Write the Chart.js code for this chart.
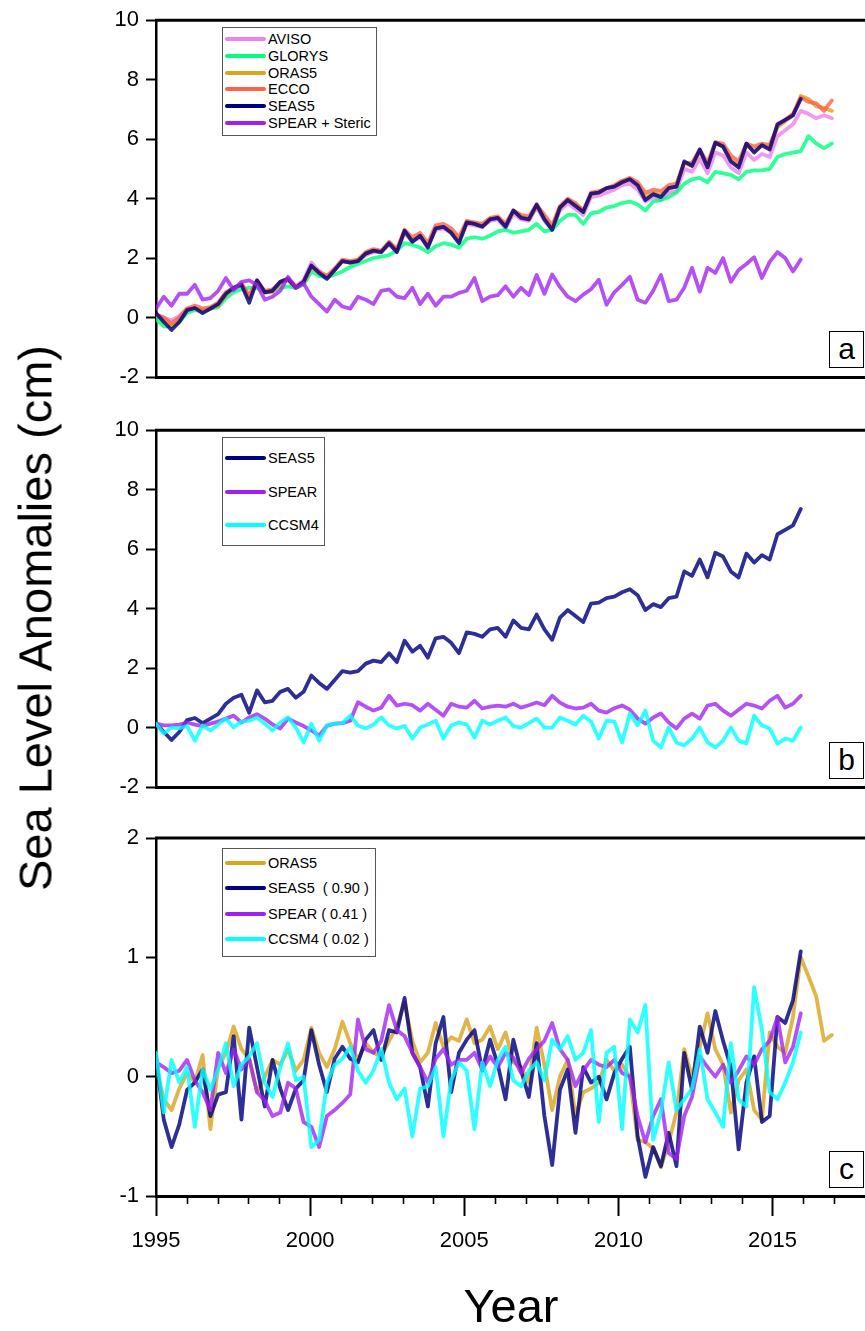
<!DOCTYPE html>
<html><head><meta charset="utf-8">
<script src="https://cdn.jsdelivr.net/npm/chart.js@4.4.0/dist/chart.umd.min.js"></script>
<style>
html,body{margin:0;padding:0;background:#fff;width:865px;height:1331px;overflow:hidden;position:relative;font-family:"Liberation Sans",Arial,Helvetica,sans-serif;}
canvas{position:absolute;left:0;}
.legend{position:absolute;border:1.5px solid #555;background:#fff;box-sizing:border-box;}
.row{position:absolute;left:0;height:16px;white-space:pre;font-size:14.5px;line-height:16px;color:#000}
.sw{position:absolute;left:2px;top:6px;width:41px;height:4px;border-radius:2px}
.tx{position:absolute;left:45px;top:0}
.plabel{position:absolute;left:829px;width:35px;height:37px;border:1.5px solid #000;background:#fff;font-size:30px;line-height:33px;text-align:center;box-sizing:border-box;color:#000}
#ytitle{position:absolute;left:35px;top:618px;transform:translate(-50%,-50%) rotate(-90deg);font-size:47px;white-space:nowrap;color:#000}
#xtitle{position:absolute;left:511px;top:1305px;transform:translate(-50%,-50%);font-size:47px;white-space:nowrap;color:#000}
</style>
</head><body>
<canvas id="ca" width="880" height="400" style="top:0px"></canvas>
<canvas id="cb" width="880" height="400" style="top:410px"></canvas>
<canvas id="cc" width="880" height="516" style="top:815px"></canvas>
<div id="ytitle">Sea Level Anomalies (cm)</div>
<div id="xtitle">Year</div>
<script>
// ---------------- DATA (quarterly samples) ----------------
const xTickYears = [1995, 2000, 2005, 2010, 2015];
const xMinorYears = [1996,1997,1998,1999,2001,2002,2003,2004,2006,2007,2008,2009,2011,2012,2013,2014,2016,2017];
const time84 = Array.from({length: 84}, (_, i) => 1995 + i * 0.252);
const time88 = Array.from({length: 88}, (_, i) => 1995 + i * 0.252);

// Panel a
const avisoA = [0.05,0.0,-0.1,0.05, 0.3,0.3,0.25,0.3, 0.45,0.8,0.95,1.1, 0.7,1.2,0.85,0.9, 1.15,1.3,1.05,1.25,
  1.85,1.55,1.35,1.6, 1.9,1.85,1.9,2.1, 2.2,2.2,2.45,2.2, 2.85,2.55,2.7,2.4, 2.95,3.0,2.85,2.55,
  3.15,3.1,3.05,3.25, 3.3,3.0,3.5,3.3, 3.25,3.7,3.25,2.95, 3.6,3.85,3.65,3.45, 4.05,4.1,4.2,4.3,
  4.45,4.5,4.3,3.9, 4.05,3.95,4.2,4.25, 5.0,4.9,5.35,4.85, 5.55,5.45,5.05,4.85, 5.55,5.3,5.5,5.4,
  6.1,6.3,6.5,6.95, 6.85,6.7,6.8,6.7];
const glorysA = [-0.05,-0.3,-0.3,-0.15, 0.15,0.25,0.2,0.3, 0.35,0.65,0.85,0.95, 1.0,1.0,0.85,0.9, 1.0,1.05,1.0,1.1,
  1.55,1.4,1.35,1.45, 1.55,1.7,1.8,1.9, 2.0,2.05,2.1,2.25, 2.5,2.45,2.35,2.2, 2.4,2.5,2.45,2.35,
  2.65,2.7,2.65,2.75, 2.9,2.95,2.85,2.9, 2.95,3.15,2.9,2.95, 3.25,3.45,3.45,3.15, 3.5,3.55,3.7,3.75,
  3.85,3.9,3.8,3.6, 3.9,3.95,4.05,4.2, 4.5,4.65,4.7,4.55, 4.9,4.85,4.8,4.65, 4.9,4.95,4.95,5.0,
  5.4,5.5,5.55,5.6, 6.1,5.85,5.7,5.85];
const oras5A = [0.1,-0.1,-0.3,-0.1, 0.25,0.3,0.2,0.3, 0.4,0.75,1.0,1.1, 0.65,1.2,0.85,0.85, 1.15,1.25,1.0,1.15,
  1.7,1.5,1.35,1.6, 1.9,1.85,1.9,2.15, 2.25,2.2,2.5,2.25, 2.9,2.6,2.75,2.4, 3.0,3.05,2.9,2.6,
  3.2,3.15,3.1,3.3, 3.35,3.1,3.55,3.4, 3.3,3.75,3.35,3.0, 3.7,3.95,3.8,3.55, 4.15,4.2,4.35,4.4,
  4.55,4.65,4.45,4.05, 4.2,4.1,4.35,4.4, 5.2,5.1,5.6,5.1, 5.85,5.75,5.3,5.1, 5.8,5.6,5.8,5.7,
  6.4,6.6,6.8,7.45, 7.35,7.1,7.05,6.95];
const eccoA = [0.1,0.0,-0.2,0.0, 0.3,0.4,0.3,0.35, 0.5,0.85,1.0,1.15, 0.75,1.25,0.9,0.95, 1.2,1.3,1.05,1.2,
  1.7,1.55,1.4,1.65, 1.95,1.9,1.95,2.2, 2.3,2.25,2.55,2.3, 2.95,2.7,2.85,2.5, 3.1,3.15,3.0,2.7,
  3.25,3.2,3.15,3.35, 3.4,3.15,3.6,3.45, 3.4,3.8,3.45,3.1, 3.75,4.0,3.85,3.6, 4.2,4.25,4.35,4.45,
  4.6,4.7,4.55,4.2, 4.3,4.25,4.45,4.5, 5.2,5.2,5.65,5.2, 5.9,5.85,5.45,5.25, 5.85,5.75,5.85,5.8,
  6.45,6.65,6.85,7.4, 7.25,7.2,6.95,7.3];
const seas5 = [0.15,-0.15,-0.42,-0.15, 0.25,0.32,0.15,0.3, 0.45,0.8,1.0,1.1, 0.5,1.25,0.85,0.9, 1.2,1.3,1.0,1.2,
  1.75,1.5,1.3,1.6, 1.9,1.85,1.9,2.15, 2.25,2.2,2.5,2.2, 2.92,2.55,2.75,2.35, 3.0,3.05,2.85,2.5,
  3.2,3.15,3.05,3.3, 3.35,3.05,3.6,3.35, 3.3,3.8,3.3,2.95, 3.7,3.95,3.75,3.55, 4.17,4.2,4.35,4.4,
  4.55,4.65,4.45,3.95, 4.15,4.05,4.35,4.4, 5.25,5.1,5.65,5.05, 5.88,5.75,5.25,5.05, 5.85,5.55,5.8,5.65,
  6.5,6.65,6.8,7.35];
const spearStericA = [0.3,0.7,0.4,0.8, 0.8,1.1,0.6,0.65, 0.9,1.33,0.93,1.2, 1.25,1.1,0.6,0.7, 0.9,1.37,1.0,1.15,
  0.7,0.45,0.2,0.6, 0.37,0.3,0.7,0.6, 0.45,0.9,0.95,0.7, 0.65,1.0,0.45,0.8, 0.4,0.7,0.7,0.83,
  0.9,1.33,0.55,0.7, 0.75,1.05,0.7,1.0, 0.75,1.43,0.8,1.45, 1.03,0.7,0.55,0.77, 0.95,1.27,0.43,0.85,
  1.1,1.37,0.6,0.5, 0.9,1.43,0.55,0.6, 1.0,1.67,0.87,1.67, 1.5,2.0,1.2,1.6, 1.8,2.03,1.33,1.87,
  2.2,2.0,1.55,1.95];

// Panel b
const spearB = [0.13,0.07,0.07,0.1, 0.17,0.1,0.05,0.13, 0.2,0.3,0.4,0.17, 0.34,0.45,0.3,0.1, -0.03,0.3,0.17,0.05,
  -0.1,-0.27,0.05,0.13, 0.15,0.23,0.85,0.7, 0.57,0.67,1.07,0.74, 0.8,0.75,0.57,0.8, 0.6,0.4,0.8,0.7,
  0.67,0.9,0.64,0.7, 0.74,0.7,0.8,0.67, 0.75,0.84,0.75,1.07, 0.84,0.7,0.64,0.67, 0.8,0.57,0.5,0.65,
  0.74,0.6,0.3,0.13, 0.34,0.47,0.17,-0.03, 0.3,0.47,0.3,0.74, 0.8,0.57,0.4,0.6, 0.8,0.74,0.64,0.9,
  1.07,0.67,0.8,1.07];
const ccsm4B = [0.13,-0.2,0.0,-0.03, 0.05,-0.44,0.07,-0.1, 0.1,0.3,0.0,0.2, 0.23,0.34,0.13,-0.1, 0.17,0.34,0.0,-0.5,
  0.13,-0.44,0.07,0.13, 0.15,0.4,0.07,-0.03, 0.1,0.34,0.07,-0.03, 0.05,-0.37,0.0,0.1, 0.23,-0.37,0.07,0.17,
  0.1,-0.34,0.23,0.1, 0.23,0.34,0.05,0.0, 0.15,0.3,0.0,0.0, 0.34,0.23,0.1,0.4, 0.2,-0.37,0.23,0.2,
  -0.5,0.47,0.07,0.57, -0.44,-0.67,0.0,-0.5, -0.6,-0.37,0.0,-0.5, -0.67,-0.44,0.0,-0.44, -0.54,0.4,0.07,-0.03,
  -0.54,-0.37,-0.44,0.0];

// Panel c (detrended)
const oras5C = [0.08,-0.19,-0.28,-0.1, 0.03,-0.05,0.18,-0.44, 0.08,0.2,0.42,0.23, 0.15,-0.13,0.0,0.14, 0.1,0.23,0.05,0.14,
  0.41,0.2,0.08,0.23, 0.46,0.28,0.14,0.28, 0.2,0.17,0.3,0.42, 0.62,0.3,0.12,0.2, 0.45,0.25,0.33,0.3,
  0.48,0.28,0.31,0.42, 0.23,0.37,0.12,0.08, -0.05,0.41,0.1,-0.28, 0.0,0.14,-0.33,-0.13, -0.1,-0.05,0.14,0.05,
  0.1,0.0,-0.53,-0.55, -0.6,-0.76,-0.55,-0.3, 0.23,0.0,0.25,0.53, 0.23,0.1,-0.3,-0.03, 0.06,-0.28,-0.36,0.37,
  0.25,0.2,0.5,1.0, 0.84,0.67,0.3,0.35];
const seas5C = [0.17,-0.36,-0.59,-0.4, -0.11,-0.05,0.06,-0.33, -0.15,-0.13,0.34,-0.36, 0.41,0.08,-0.25,0.14, -0.1,-0.28,-0.1,-0.03,
  0.39,0.1,-0.13,0.15, 0.25,0.15,0.12,0.31, 0.39,0.14,0.39,0.37, 0.66,0.2,0.08,-0.25, 0.28,0.5,-0.13,0.2,
  0.31,0.39,0.05,0.31, 0.1,-0.19,0.31,0.05, -0.17,0.28,-0.33,-0.74, -0.11,0.06,-0.47,0.08, -0.05,0.0,-0.19,0.03,
  0.15,0.25,-0.5,-0.84, -0.59,-0.75,-0.47,-0.75, 0.2,-0.11,0.42,0.2, 0.55,0.3,0.08,-0.61, -0.05,0.17,-0.38,-0.33,
  0.5,0.45,0.64,1.05];
const spearC = [0.12,0.08,0.03,0.05, 0.14,-0.03,-0.13,-0.28, 0.2,0.03,0.23,0.06, 0.15,-0.13,-0.2,-0.33, -0.3,-0.05,-0.1,-0.38,
  -0.42,-0.59,-0.33,-0.28, -0.22,-0.15,0.48,0.23, 0.2,0.3,0.6,0.39, 0.34,0.2,0.08,-0.05, 0.15,0.23,0.1,0.14,
  0.14,0.2,0.06,0.17, 0.08,0.2,0.16,0.03, 0.15,0.23,0.3,0.45, 0.23,0.14,-0.08,0.05, 0.14,0.1,0.08,0.14,
  0.03,0.0,-0.33,-0.55, -0.33,-0.19,-0.64,-0.69, -0.33,-0.17,0.17,0.08, 0.0,0.1,-0.05,0.05, 0.17,0.1,0.23,0.3,
  0.5,0.12,0.25,0.53];
const ccsm4C = [0.2,-0.3,0.14,-0.05, 0.08,-0.42,0.06,-0.11, 0.06,0.28,-0.08,0.1, 0.17,0.28,-0.05,-0.17, 0.08,0.28,-0.03,0.0,
  -0.59,-0.53,-0.05,0.1, 0.15,0.25,0.05,-0.05, 0.05,0.23,-0.05,-0.19, -0.1,-0.5,-0.1,-0.08, 0.08,-0.5,-0.03,0.12,
  0.05,-0.44,0.12,-0.08, 0.14,0.25,-0.03,-0.08, 0.05,0.12,-0.03,0.31, 0.23,0.34,0.14,0.2, 0.39,-0.38,0.2,0.25,
  -0.44,0.48,0.37,0.6, -0.53,-0.3,0.12,-0.28, -0.19,-0.1,0.23,-0.19, -0.3,-0.42,0.28,-0.19, -0.25,0.75,0.39,-0.13,
  -0.19,-0.05,0.12,0.37];

// ---------------- STYLE ----------------
const COL = {
  AVISO: 'rgba(238,130,238,0.82)', GLORYS: 'rgba(0,255,127,0.82)', ORAS5: 'rgba(218,165,32,0.82)',
  ECCO: 'rgba(255,99,71,0.82)', SEAS5: 'rgba(0,0,128,0.82)', SPEAR: 'rgba(160,32,240,0.78)', CCSM4: 'rgba(0,255,255,0.82)'
};
const LEG = {
  AVISO: '#ee82ee', GLORYS: '#00ff7f', ORAS5: '#daa520', ECCO: '#ff6347', SEAS5: '#000080', SPEAR: '#a020f0', CCSM4: '#00ffff'
};
const FONT = '"Liberation Sans", Arial, Helvetica, sans-serif';

function ds(label, key, vals, times, idx) {
  return {
    label, data: vals.map((v, i) => ({x: times[i], y: v})),
    borderColor: COL[key], borderWidth: 3.8, pointRadius: 0, fill: false, tension: 0,
    borderJoinStyle: 'round', borderCapStyle: 'round', order: -idx
  };
}

// top frame line + minor year ticks (placed through the x scale)
const framePlugin = {
  id: 'frame',
  afterDraw(chart, args, opts) {
    const {ctx, chartArea: a} = chart;
    ctx.save(); ctx.strokeStyle = '#000'; ctx.lineWidth = 3;
    ctx.beginPath(); ctx.moveTo(a.left - 1, a.top); ctx.lineTo(a.right + 2, a.top); ctx.stroke();
    if (opts.minor) {
      const xs = chart.scales.x;
      ctx.lineWidth = 1.6;
      ctx.beginPath();
      xMinorYears.forEach(yr => {
        const px = Math.round(xs.getPixelForValue(yr)) + 0.5;
        ctx.moveTo(px, a.bottom + 1); ctx.lineTo(px, a.bottom + 8);
      });
      ctx.stroke();
    }
    ctx.restore();
  }
};

function makePanel(id, datasets, ymin, ymax, ystep, pad, bottom) {
  const scales = {
    x: {
      type: 'linear', min: 1995, max: 2018, position: 'bottom',
      afterFit: s => { s.height = bottom ? 62 : 0; },
      border: {display: true, color: '#000', width: 3},
      grid: {display: true, drawOnChartArea: false, drawTicks: bottom, tickLength: 20, tickWidth: 2, tickColor: '#000'},
      ticks: {display: bottom, stepSize: 5, includeBounds: false, autoSkip: false, maxRotation: 0, padding: 12,
        color: '#000', font: {family: FONT, size: 22},
        callback: v => xTickYears.includes(v) ? String(v) : ''}
    },
    y: {
      min: ymin, max: ymax,
      afterFit: s => { s.width = 156; },
      border: {display: true, color: '#000', width: 2.5},
      grid: {drawOnChartArea: false, tickLength: 10, tickWidth: 2, tickColor: '#000'},
      ticks: {stepSize: ystep, color: '#000', padding: 7, font: {family: FONT, size: 22}}
    }
  };
  return new Chart(document.getElementById(id), {
    type: 'line',
    data: {datasets},
    options: {
      responsive: false, animation: false, devicePixelRatio: 1,
      layout: {padding: pad},
      plugins: {legend: {display: false}, tooltip: {enabled: false}, frame: {minor: bottom}},
      scales
    },
    plugins: [framePlugin]
  });
}

makePanel('ca', [
  ds('AVISO', 'AVISO', avisoA, time88, 0),
  ds('GLORYS', 'GLORYS', glorysA, time88, 1),
  ds('ORAS5', 'ORAS5', oras5A, time88, 2),
  ds('ECCO', 'ECCO', eccoA, time88, 3),
  ds('SEAS5', 'SEAS5', seas5, time84, 4),
  ds('SPEAR + Steric', 'SPEAR', spearStericA, time84, 5)
], -2, 10, 2, {top: 18, bottom: 23, left: 0, right: 15}, false);

makePanel('cb', [
  ds('SEAS5', 'SEAS5', seas5, time84, 0),
  ds('SPEAR', 'SPEAR', spearB, time84, 1),
  ds('CCSM4', 'CCSM4', ccsm4B, time84, 2)
], -2, 10, 2, {top: 19, bottom: 23, left: 0, right: 15}, false);

makePanel('cc', [
  ds('ORAS5', 'ORAS5', oras5C, time88, 0),
  ds('SEAS5  ( 0.90 )', 'SEAS5', seas5C, time84, 1),
  ds('SPEAR ( 0.41 )', 'SPEAR', spearC, time84, 2),
  ds('CCSM4 ( 0.02 )', 'CCSM4', ccsm4C, time84, 3)
], -1, 2, 1, {top: 23, bottom: 73, left: 0, right: 15}, true);

// ---------------- LEGENDS & PANEL LABELS (HTML text) ----------------
function legend(left, top, w, h, first, step, items) {
  const box = document.createElement('div');
  box.className = 'legend';
  Object.assign(box.style, {left: left + 'px', top: top + 'px', width: w + 'px', height: h + 'px'});
  items.forEach((it, i) => {
    const r = document.createElement('div');
    r.className = 'row';
    r.style.top = (first + i * step - 8) + 'px';
    const sw = document.createElement('div'); sw.className = 'sw'; sw.style.background = LEG[it[1]];
    const tx = document.createElement('div'); tx.className = 'tx'; tx.textContent = it[0];
    r.appendChild(sw); r.appendChild(tx); box.appendChild(r);
  });
  document.body.appendChild(box);
}
legend(222, 27, 155, 109, 11, 16.8, [['AVISO','AVISO'],['GLORYS','GLORYS'],['ORAS5','ORAS5'],['ECCO','ECCO'],['SEAS5','SEAS5'],['SPEAR + Steric','SPEAR']]);
legend(222, 437, 103, 109, 20, 33.5, [['SEAS5','SEAS5'],['SPEAR','SPEAR'],['CCSM4','CCSM4']]);
legend(222, 848, 154, 109, 14, 25.3, [['ORAS5','ORAS5'],['SEAS5  ( 0.90 )','SEAS5'],['SPEAR ( 0.41 )','SPEAR'],['CCSM4 ( 0.02 )','CCSM4']]);

[['a', 331], ['b', 742], ['c', 1151]].forEach(([t, y]) => {
  const d = document.createElement('div'); d.className = 'plabel'; d.style.top = y + 'px'; d.textContent = t;
  document.body.appendChild(d);
});
</script>
</body></html>
